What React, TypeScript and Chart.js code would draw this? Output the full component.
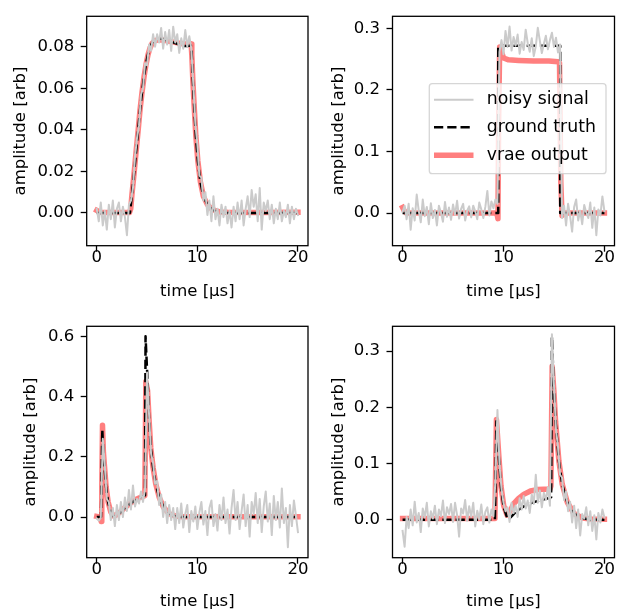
import React, { useEffect, useRef } from "react";
import { Chart, registerables } from "chart.js";

Chart.register(...registerables);

// ---------- data ----------
const time = [
  0, 0.2, 0.4, 0.6, 0.8, 1, 1.2, 1.4, 1.6, 1.8, 2, 2.2, 2.4, 2.6, 2.8, 3, 3.2, 3.4, 3.6, 3.8,
  4, 4.2, 4.4, 4.6, 4.8, 5, 5.2, 5.4, 5.6, 5.8, 6, 6.2, 6.4, 6.6, 6.8, 7, 7.2, 7.4, 7.6, 7.8,
  8, 8.2, 8.4, 8.6, 8.8, 9, 9.2, 9.4, 9.6, 9.8, 10, 10.2, 10.4, 10.6, 10.8, 11, 11.2, 11.4, 11.6, 11.8,
  12, 12.2, 12.4, 12.6, 12.8, 13, 13.2, 13.4, 13.6, 13.8, 14, 14.2, 14.4, 14.6, 14.8, 15, 15.2, 15.4, 15.6, 15.8,
  16, 16.2, 16.4, 16.6, 16.8, 17, 17.2, 17.4, 17.6, 17.8, 18, 18.2, 18.4, 18.6, 18.8, 19, 19.2, 19.4, 19.6, 19.8, 20,
];

const xTicks = [0, 10, 20];
const seriesLabels = ["noisy signal", "ground truth", "vrae output"];

// panel 1
const p1Noisy = [
  0.002, -0.004, 0.005, -0.006, 0.001, -0.008, 0.004, -0.003, 0.006, -0.007,
  0.002, 0.005, -0.004, 0.003, -0.002, -0.0107, 0.004, 0.006, 0.012, 0.027,
  0.036, 0.042, 0.057, 0.06, 0.072, 0.071, 0.081, 0.078, 0.086, 0.08,
  0.086, 0.082, 0.089, 0.079, 0.087, 0.081, 0.088, 0.078, 0.0896, 0.082,
  0.086, 0.077, 0.084, 0.079, 0.088, 0.08, 0.085, 0.079, 0.062, 0.043,
  0.033, 0.018, 0.017, 0.006, 0.01, -0.001, 0.006, -0.004, 0.008, -0.003,
  0.002, -0.006, 0.004, -0.002, 0.003, -0.005, 0.001, -0.007, 0.003, -0.004,
  0.005, -0.003, 0.006, -0.006, 0.002, 0.008, -0.002, 0.011, 0.003, 0.009,
  -0.004, 0.012, -0.008, 0.005, 0.001, 0.006, -0.003, 0.004, -0.005, 0.002,
  -0.003, 0.005, -0.004, 0.001, -0.002, 0.004, -0.005, 0.003, -0.003, 0.002, -0.001,
];
const p1TruthX = [0, 3.3, 3.5, 3.7, 3.9, 4.1, 4.3, 4.5, 4.7, 4.9, 5.1, 5.3, 5.5, 5.7, 5.9, 6.2, 6.5, 7.0, 7.5, 8.0, 8.4, 8.7, 9.0, 9.35, 9.42, 9.55, 9.7, 9.85, 10.05, 10.3, 10.6, 11.0, 11.5, 12.2, 13.0, 20];
const p1Truth = [0, 0, 0.009, 0.0185, 0.029, 0.039, 0.0495, 0.058, 0.0657, 0.0718, 0.0765, 0.0797, 0.0818, 0.0828, 0.0835, 0.0839, 0.0838, 0.083, 0.0822, 0.0814, 0.0808, 0.0803, 0.0803, 0.0806, 0.079, 0.064, 0.05, 0.037, 0.025, 0.015, 0.008, 0.004, 0.0015, 0.0003, 0, 0];
const p1VraeX = [0, 0.3, 1.0, 3.25, 3.38, 3.5, 3.7, 3.9, 4.1, 4.3, 4.5, 4.7, 4.9, 5.1, 5.3, 5.5, 5.7, 5.9, 6.3, 7.0, 8.0, 8.8, 9.2, 9.38, 9.45, 9.55, 9.7, 9.85, 10.05, 10.3, 10.6, 11.0, 11.5, 12.2, 13.0, 16.0, 20];
const p1Vrae = [0.0012, 0.0004, 0.0002, 0.0002, 0.002, 0.009, 0.0185, 0.029, 0.039, 0.0495, 0.058, 0.0655, 0.0715, 0.0762, 0.0795, 0.0815, 0.0825, 0.0831, 0.0833, 0.0828, 0.0818, 0.0813, 0.0815, 0.0813, 0.076, 0.064, 0.05, 0.037, 0.025, 0.015, 0.008, 0.004, 0.0016, 0.0005, 0.0003, 0.0002, 0.0003];
const p1YTicks = [0, 0.02, 0.04, 0.06, 0.08];

// panel 2
const p2Noisy = [
  0.002, 0.012, -0.01, 0.015, -0.027, 0.008, -0.012, 0.03, 0.004, -0.015,
  0.022, -0.005, 0.01, -0.018, 0.016, -0.008, 0.005, -0.02, 0.012, 0.001,
  -0.014, 0.018, -0.006, 0.009, -0.011, 0.014, -0.003, 0.02, -0.009, 0.007,
  0.015, -0.012, 0.004, 0.011, -0.007, 0.012, 0.003, -0.01, 0.017, 0.006,
  -0.008, 0.01, 0.036, -0.004, 0.019, 0.008, 0.022, 0.015, 0.262, 0.281,
  0.258, 0.296, 0.27, 0.303, 0.264, 0.286, 0.272, 0.29, 0.259, 0.278,
  0.265, 0.298, 0.276, 0.262, 0.284, 0.255, 0.271, 0.301, 0.28, 0.26,
  0.275, 0.288, 0.266, 0.281, 0.293, 0.27, 0.285, 0.261, 0.274, -0.008,
  0.012, -0.02, 0.015, -0.005, -0.03, 0.01, 0.022, -0.012, 0.004, -0.018,
  0.013, 0.001, -0.008, 0.017, -0.024, 0.009, -0.036, 0.006, -0.004, 0.027, 0.003,
];
const p2TruthX = [0, 9.48, 9.48, 15.62, 15.62, 20];
const p2Truth = [0, 0, 0.272, 0.272, 0, 0];
const p2VraeX = [0, 0.15, 0.35, 9.2, 9.38, 9.45, 9.52, 9.62, 9.8, 10.0, 10.5, 11.5, 13.0, 14.5, 15.4, 15.55, 15.68, 15.8, 16.0, 20];
const p2Vrae = [0.009, 0.004, 0.0, 0.0, -0.003, -0.009, 0.15, 0.27, 0.262, 0.252, 0.249, 0.248, 0.247, 0.247, 0.246, 0.244, 0.05, -0.004, 0.0, 0.0];
const p2YTicks = [0, 0.1, 0.2, 0.3];

// panel 3
const p3Noisy = [
  -0.005, -0.012, -0.003, 0.26, 0.17, 0.06, 0.05, -0.01, 0.03, -0.03,
  0.04, -0.01, 0.05, 0.0, 0.065, 0.02, 0.09, 0.025, 0.105, 0.035,
  0.06, 0.045, 0.085, 0.05, 0.095, 0.48, 0.34, 0.21, 0.18, 0.11,
  0.12, 0.04, 0.075, 0.0, 0.05, -0.02, 0.04, -0.01, 0.03, -0.04,
  0.03, -0.02, 0.045, -0.035, 0.01, 0.04, -0.05, 0.02, -0.015, 0.035,
  -0.04, 0.015, 0.05, -0.025, 0.02, -0.06, 0.03, 0.055, -0.03, 0.01,
  -0.045, 0.04, -0.01, 0.065, -0.02, 0.025, -0.055, 0.03, 0.09, -0.01,
  0.05, -0.04, 0.02, 0.075, -0.03, 0.04, -0.065, 0.05, 0.01, 0.08,
  -0.02, 0.06, -0.05, 0.035, 0.085, -0.015, 0.045, -0.06, 0.07, -0.01,
  0.05, -0.035, 0.095, -0.02, 0.03, -0.1, 0.04, -0.03, 0.055, 0.005, -0.05,
];
const p3TruthX = [0, 0.42, 0.55, 0.66, 0.8, 0.93, 1.13, 1.39, 1.66, 1.89, 2.39, 2.89, 3.38, 3.88, 4.38, 4.8, 4.85, 5.04, 5.21, 5.37, 5.6, 5.87, 6.2, 6.63, 7.2, 7.86, 8.5, 20];
const p3Truth = [0, 0, 0.29, 0.208, 0.153, 0.098, 0.049, 0.016, 0.002, 0.004, 0.016, 0.033, 0.046, 0.057, 0.066, 0.072, 0.6, 0.46, 0.317, 0.23, 0.164, 0.109, 0.066, 0.033, 0.011, 0.002, 0, 0];
const p3VraeX = [0, 0.3, 0.45, 0.5, 0.57, 0.66, 0.8, 0.93, 1.13, 1.39, 1.66, 1.89, 2.39, 2.89, 3.38, 3.88, 4.38, 4.78, 4.88, 5.05, 5.21, 5.37, 5.6, 5.87, 6.2, 6.63, 7.2, 7.86, 8.5, 20];
const p3Vrae = [0.002, 0.0, -0.015, 0.1, 0.305, 0.215, 0.155, 0.1, 0.05, 0.017, 0.004, 0.006, 0.018, 0.034, 0.047, 0.058, 0.066, 0.071, 0.45, 0.42, 0.317, 0.23, 0.164, 0.109, 0.066, 0.033, 0.011, 0.003, 0.001, 0.001];
const p3YTicks = [0, 0.2, 0.4, 0.6];

// panel 4
const p4Noisy = [
  -0.02, -0.048, 0.005, -0.015, 0.018, -0.01, 0.032, -0.005, 0.012, -0.022,
  0.02, 0.004, 0.03, -0.012, 0.015, 0.002, 0.025, -0.008, 0.018, 0.006,
  0.034, -0.006, 0.022, 0.01, 0.028, -0.004, 0.03, 0.008, -0.03, 0.02,
  0.011, 0.035, -0.002, 0.024, 0.005, 0.03, -0.012, 0.016, 0.001, 0.027,
  -0.008, 0.014, 0.022, -0.005, 0.018, 0.006, 0.07, 0.195, 0.1, 0.055,
  0.03, 0.015, 0.022, -0.004, 0.03, 0.012, 0.025, 0.005, 0.038, 0.018,
  0.042, 0.02, 0.034, 0.012, 0.045, 0.028, 0.08, 0.03, 0.052, 0.022,
  0.048, 0.035, 0.058, 0.025, 0.33, 0.24, 0.16, 0.13, 0.08, 0.075,
  0.035, 0.05, 0.015, 0.032, -0.005, 0.025, -0.015, 0.018, -0.028, 0.01,
  0.002, 0.022, -0.01, 0.015, -0.02, 0.008, -0.035, 0.012, -0.005, 0.018, 0.004,
];
const p4TruthX = [0, 9.15, 9.3, 9.52, 9.75, 10.02, 10.35, 10.45, 10.85, 11.34, 12.0, 12.67, 13.33, 14.0, 14.6, 14.72, 14.8, 14.99, 15.16, 15.49, 15.82, 16.32, 16.98, 17.81, 18.64, 20];
const p4Truth = [0, 0, 0.175, 0.116, 0.057, 0.022, 0.004, 0.0, 0.007, 0.016, 0.0235, 0.029, 0.033, 0.0365, 0.039, 0.04, 0.325, 0.233, 0.175, 0.104, 0.063, 0.031, 0.011, 0.003, 0, 0];
const p4VraeX = [0, 9.15, 9.3, 9.52, 9.75, 10.02, 10.35, 10.68, 11.0, 11.5, 12.0, 12.67, 13.33, 14.0, 14.6, 14.7, 14.82, 14.99, 15.16, 15.49, 15.82, 16.32, 16.98, 17.81, 18.64, 20];
const p4Vrae = [0.002, 0.002, 0.178, 0.118, 0.06, 0.025, 0.008, 0.016, 0.028, 0.038, 0.045, 0.051, 0.0535, 0.054, 0.054, 0.06, 0.273, 0.23, 0.175, 0.104, 0.063, 0.031, 0.011, 0.003, 0.001, 0.001];
const p4YTicks = [0, 0.1, 0.2, 0.3];

// ---------- layout / style ----------
const FONT_FAMILY = "'DejaVu Sans', sans-serif";
const FONT_SIZE = 16.5;
const LEGEND_FONT_SIZE = 17.3;

type Panel = {
  noisy: number[];
  truthX: number[];
  truth: number[];
  vraeX: number[];
  vrae: number[];
  yTicks: number[];
  yMin: number;
  yMax: number;
  decimals: number;
  left: number;
  top: number;
  w: number;
  h: number;
  area: { left: number; top: number; right: number; bottom: number };
  yTitleCenter: number;
  xTitleCenter: number;
  legend?: { box: { x: number; y: number; w: number; h: number }; rows: number[]; x0: number; x1: number; tx: number };
};

const panels: Panel[] = [
  {
    noisy: p1Noisy, truthX: p1TruthX, truth: p1Truth, vraeX: p1VraeX, vrae: p1Vrae,
    yTicks: p1YTicks, yMin: -0.01575, yMax: 0.0946, decimals: 2,
    left: 0, top: 0, w: 310, h: 305,
    area: { left: 86.7, top: 12, right: 308, bottom: 245.7 },
    yTitleCenter: 20.5, xTitleCenter: 291.7,
  },
  {
    noisy: p2Noisy, truthX: p2TruthX, truth: p2Truth, vraeX: p2VraeX, vrae: p2Vrae,
    yTicks: p2YTicks, yMin: -0.053, yMax: 0.3197, decimals: 1,
    left: 310, top: 0, w: 307, h: 305,
    area: { left: 82.5, top: 12, right: 304.5, bottom: 245.7 },
    yTitleCenter: 28.3, xTitleCenter: 291.7,
    legend: { box: { x: 119.3, y: 83.7, w: 176.7, h: 90 }, rows: [99.7, 127.3, 155.3], x0: 124, x1: 163.5, tx: 176.7 },
  },
  {
    noisy: p3Noisy, truthX: p3TruthX, truth: p3Truth, vraeX: p3VraeX, vrae: p3Vrae,
    yTicks: p3YTicks, yMin: -0.135, yMax: 0.633, decimals: 1,
    left: 0, top: 310, w: 310, h: 305,
    area: { left: 86.7, top: 14, right: 308, bottom: 247.7 },
    yTitleCenter: 31, xTitleCenter: 292,
  },
  {
    noisy: p4Noisy, truthX: p4TruthX, truth: p4Truth, vraeX: p4VraeX, vrae: p4Vrae,
    yTicks: p4YTicks, yMin: -0.0676, yMax: 0.344, decimals: 1,
    left: 310, top: 310, w: 307, h: 305,
    area: { left: 82.5, top: 14, right: 304.5, bottom: 247.7 },
    yTitleCenter: 28.3, xTitleCenter: 292,
  },
];

const NOISY_COLOR = "#cbcbcb";
const TRUTH_COLOR = "#000000";
const VRAE_COLOR = "rgba(255,0,0,0.5)";
const DASH = [9.25, 4];

function PanelChart({ cfg }: { cfg: Panel }) {
  const ref = useRef<HTMLCanvasElement | null>(null);

  useEffect(() => {
    const canvas = ref.current;
    if (!canvas) return;
    const font = { family: FONT_FAMILY, size: FONT_SIZE, lineHeight: 1.2 };
    const halfLine = (FONT_SIZE * 1.2) / 2;

    const framePlugin = {
      id: "frame",
      afterDatasetsDraw(chart: any) {
        const { ctx, chartArea: a } = chart;
        ctx.save();
        ctx.strokeStyle = "#000";
        ctx.lineWidth = 1.3;
        ctx.strokeRect(a.left, a.top, a.right - a.left, a.bottom - a.top);
        ctx.restore();
      },
    };

    const legendPlugin = {
      id: "boxLegend",
      afterDraw(chart: any) {
        const lg = cfg.legend;
        if (!lg) return;
        const { ctx } = chart;
        ctx.save();
        ctx.beginPath();
        (ctx as any).roundRect(lg.box.x, lg.box.y, lg.box.w, lg.box.h, 3);
        ctx.fillStyle = "rgba(255,255,255,0.8)";
        ctx.fill();
        ctx.strokeStyle = "rgba(204,204,204,0.8)";
        ctx.lineWidth = 1.3;
        ctx.stroke();
        chart.data.datasets.forEach((ds: any, i: number) => {
          const y = lg.rows[i];
          ctx.beginPath();
          ctx.moveTo(lg.x0, y);
          ctx.lineTo(lg.x1, y);
          ctx.strokeStyle = ds.borderColor;
          ctx.lineWidth = ds.borderWidth;
          ctx.setLineDash(ds.borderDash || []);
          ctx.lineCap = "butt";
          ctx.stroke();
          ctx.setLineDash([]);
          ctx.fillStyle = "#000";
          ctx.font = `${LEGEND_FONT_SIZE}px ${FONT_FAMILY}`;
          ctx.textBaseline = "middle";
          ctx.textAlign = "left";
          ctx.fillText(ds.label, lg.tx, y);
        });
        ctx.restore();
      },
    };

    const chart = new Chart(canvas, {
      type: "line",
      data: {
        datasets: [
          {
            label: seriesLabels[0],
            data: time.map((x, i) => ({ x, y: cfg.noisy[i] })),
            borderColor: NOISY_COLOR,
            borderWidth: 2,
            pointRadius: 0,
            tension: 0,
            borderCapStyle: "square",
            borderJoinStyle: "round",
          },
          {
            label: seriesLabels[1],
            data: cfg.truthX.map((x, i) => ({ x, y: cfg.truth[i] })),
            borderColor: TRUTH_COLOR,
            borderWidth: 2.5,
            borderDash: DASH,
            pointRadius: 0,
            tension: 0,
            borderJoinStyle: "round",
          },
          {
            label: seriesLabels[2],
            data: cfg.vraeX.map((x, i) => ({ x, y: cfg.vrae[i] })),
            borderColor: VRAE_COLOR,
            borderWidth: 5.5,
            pointRadius: 0,
            tension: 0,
            borderCapStyle: "square",
            borderJoinStyle: "round",
          },
        ] as any,
      },
      options: {
        animation: false,
        responsive: false,
        maintainAspectRatio: false,
        events: [],
        layout: {
          padding: { left: 0, top: cfg.area.top, right: cfg.w - cfg.area.right, bottom: 0 },
        },
        plugins: {
          legend: { display: false },
          tooltip: { enabled: false },
        },
        scales: {
          x: {
            type: "linear",
            min: -1,
            max: 21,
            afterBuildTicks: (s: any) => {
              s.ticks = xTicks.map((v) => ({ value: v }));
            },
            afterFit: (s: any) => {
              s.height = cfg.h - cfg.area.bottom;
            },
            grid: {
              display: true,
              drawOnChartArea: false,
              drawTicks: true,
              tickLength: 6,
              tickWidth: 1.3,
              tickColor: "#000",
            },
            border: { display: false },
            ticks: {
              font,
              color: "#000",
              padding: -4,
              maxRotation: 0,
              autoSkip: false,
              callback: (v: any) => String(v),
            },
            title: {
              display: true,
              text: "time [μs]",
              font,
              color: "#000",
              padding: { top: 0, bottom: cfg.h - cfg.xTitleCenter - halfLine },
            },
          },
          y: {
            type: "linear",
            min: cfg.yMin,
            max: cfg.yMax,
            afterBuildTicks: (s: any) => {
              s.ticks = cfg.yTicks.map((v) => ({ value: v }));
            },
            afterFit: (s: any) => {
              s.width = cfg.area.left;
            },
            grid: {
              display: true,
              drawOnChartArea: false,
              drawTicks: true,
              tickLength: 6,
              tickWidth: 1.3,
              tickColor: "#000",
            },
            border: { display: false },
            ticks: {
              font,
              color: "#000",
              padding: 6.4,
              autoSkip: false,
              callback: (v: any) => Number(v).toFixed(cfg.decimals),
            },
            title: {
              display: true,
              text: "amplitude [arb]",
              font,
              color: "#000",
              padding: { top: cfg.yTitleCenter - halfLine, bottom: 0 },
            },
          },
        },
      } as any,
      plugins: [framePlugin, legendPlugin],
    });

    return () => chart.destroy();
  }, [cfg]);

  return (
    <canvas
      ref={ref}
      width={cfg.w}
      height={cfg.h}
      style={{ position: "absolute", left: cfg.left, top: cfg.top, width: cfg.w, height: cfg.h }}
    />
  );
}

export default function App() {
  return (
    <div style={{ position: "absolute", left: 0, top: 0, width: 617, height: 615, background: "#fff", overflow: "hidden" }}>
      {panels.map((p, i) => (
        <PanelChart key={i} cfg={p} />
      ))}
    </div>
  );
}
